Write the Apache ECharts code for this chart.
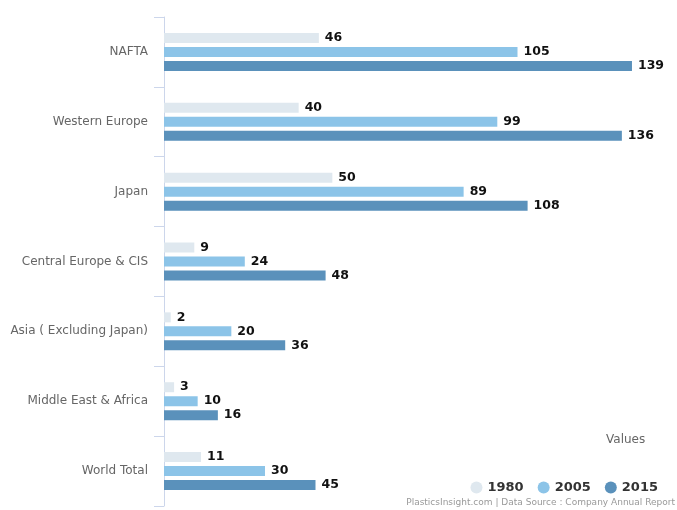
<!DOCTYPE html>
<html>
<head>
<meta charset="utf-8">
<script src="https://cdn.jsdelivr.net/npm/echarts@6/dist/echarts.min.js"></script>
<style>
html,body{margin:0;padding:0;background:#fff;}
#main{width:677px;height:510px;}
</style>
</head>
<body>
<div id="main"></div>
<script>
var chart = echarts.init(document.getElementById('main'));

var regions = ['NAFTA', 'Western Europe', 'Japan', 'Central Europe & CIS', 'Asia ( Excluding Japan)', 'Middle East & Africa', 'World Total'];
var v1980 = [46, 40, 50, 9, 2, 3, 11];
var v2005 = [105, 99, 89, 24, 20, 10, 30];
var v2015 = [139, 136, 108, 48, 36, 16, 45];

// 标签样式
var lbl = {
    show: true,
    position: 'right',
    distance: 6,
    color: '#111',
    fontWeight: 'bold',
    fontSize: 12.5,
    fontFamily: 'DejaVu Sans'
};

function bar(name, data, color) {
    return {
        name: name,
        type: 'bar',
        data: data,
        barWidth: 10,
        barGap: '40%',
        itemStyle: { color: color },
        label: lbl
    };
}

var option = {
    backgroundColor: '#fff',
    animation: false,
    grid: { left: 164, right: 8, top: 17, bottom: 4, containLabel: false },
    xAxis: {
        type: 'value',
        min: 0,
        max: 150,
        show: false
    },
    yAxis: {
        type: 'category',
        data: regions,
        inverse: true,
        axisLine: { lineStyle: { color: '#ccd6eb' } },
        axisTick: { show: true, length: 10, lineStyle: { color: '#ccd6eb' } },
        axisLabel: { color: '#666', fontSize: 12, fontFamily: 'DejaVu Sans', margin: 16 }
    },
    legend: {
        right: 14,
        top: 476,
        icon: 'circle',
        itemWidth: 12,
        itemHeight: 12,
        itemGap: 14,
        textStyle: { color: '#333', fontWeight: 'bold', fontSize: 13, fontFamily: 'DejaVu Sans' },
        data: ['1980', '2005', '2015']
    },
    graphic: [
        { type: 'text', left: 606, top: 434, style: { text: 'Values', fill: '#666', fontSize: 12, fontFamily: 'DejaVu Sans' } },
        { type: 'text', right: 2, top: 498, style: { text: 'PlasticsInsight.com | Data Source : Company Annual Report', fill: '#999', fontSize: 9, fontFamily: 'DejaVu Sans' } }
    ],
    series: [
        bar('1980', v1980, '#dfe8ef'),
        bar('2005', v2005, '#8cc4e8'),
        bar('2015', v2015, '#5a91bb')
    ]
};
chart.setOption(option);
</script>
</body>
</html>
